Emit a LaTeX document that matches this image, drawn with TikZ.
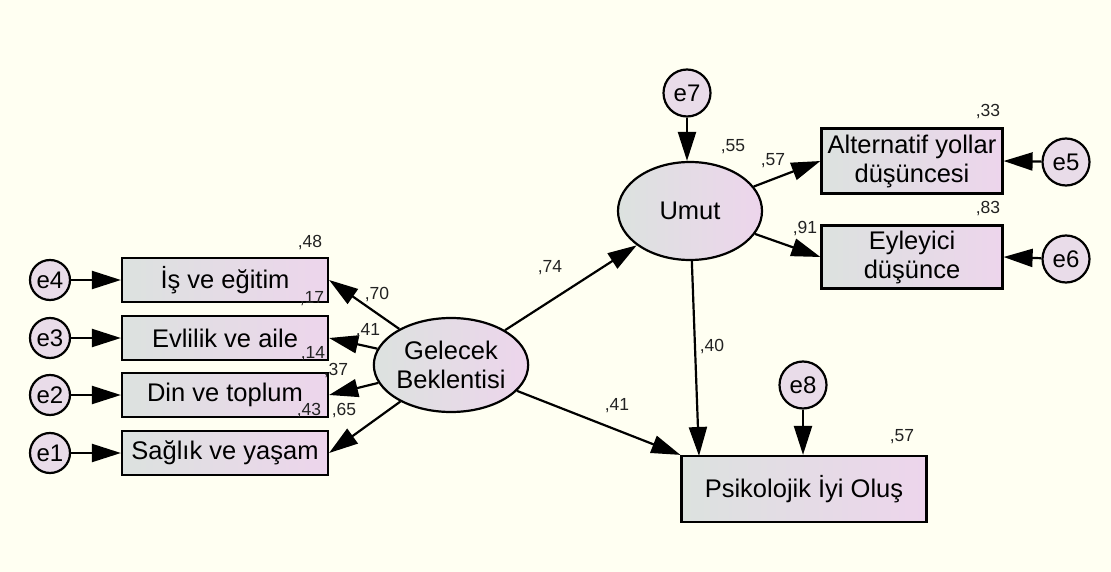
\documentclass[tikz,border=0pt]{standalone}
\usepackage{fontspec}
\setmainfont{Liberation Sans}
\usetikzlibrary{arrows.meta,shapes.geometric}
\definecolor{bg}{HTML}{FFFFF2}
\definecolor{lc}{HTML}{DCE2DF}
\definecolor{rc}{HTML}{EDD5EC}
\definecolor{cf}{HTML}{E9DCE9}
\definecolor{lab}{HTML}{222222}
\begin{document}
\begin{tikzpicture}[x=1pt,y=-1pt,
  box/.style={draw, line width=2.2pt, left color=lc, right color=rc, inner sep=0pt,
    font=\fontsize{25.5}{29}\selectfont, align=center},
  lat/.style={ellipse, draw, line width=2.2pt, left color=lc, right color=rc, inner sep=0pt,
    font=\fontsize{25.5}{29}\selectfont, align=center},
  err/.style={circle, draw, line width=2.2pt, fill=cf, inner sep=0pt, font=\fontsize{24}{26}\selectfont},
  arr/.style={line width=2.2pt, -{Triangle[length=29pt,width=18pt]}},
  lbl/.style={font=\fontsize{17.5}{19}\selectfont, text=lab, inner sep=0pt}
]
\fill[bg] (0,0) rectangle (1111,572);
% observed boxes
\node[box, minimum width=206pt, minimum height=44pt] (b4) at (225,280) {İş ve eğitim};
\node[box, minimum width=206pt, minimum height=44pt] (b3) at (225,338) {Evlilik ve aile};
\node[box, minimum width=206pt, minimum height=44pt] (b2) at (225,395) {Din ve toplum};
\node[box, minimum width=206pt, minimum height=44pt] (b1) at (225,453) {Sağlık ve yaşam};
\node[box, minimum width=181pt, minimum height=65pt] (A) at (912,161) {Alternatif yollar\\düşüncesi};
\node[box, minimum width=181pt, minimum height=63pt] (E) at (912,257) {Eyleyici\\düşünce};
\node[box, minimum width=245pt, minimum height=66pt] (P) at (804,489) {Psikolojik İyi Oluş};
% latent
\node[lat, minimum width=152pt, minimum height=94pt] (G) at (451,365) {Gelecek\\Beklentisi};
\node[lat, minimum width=144pt, minimum height=98pt] (U) at (690,211) {Umut};
% errors
\node[err, minimum size=40pt] (e4) at (50,280) {e4};
\node[err, minimum size=40pt] (e3) at (50,338) {e3};
\node[err, minimum size=40pt] (e2) at (50,395) {e2};
\node[err, minimum size=40pt] (e1) at (50,453) {e1};
\node[err, minimum size=47pt] (e7) at (687,93) {e7};
\node[err, minimum size=47pt] (e5) at (1066,162) {e5};
\node[err, minimum size=47pt] (e6) at (1066,259) {e6};
\node[err, minimum size=47pt] (e8) at (803,385) {e8};
\coordinate (Ptop) at (699,456);
% arrows
\draw[arr] (e4) -- (b4);
\draw[arr] (e3) -- (b3);
\draw[arr] (e2) -- (b2);
\draw[arr] (e1) -- (b1);
\draw[arr] (G) -- (b4.east);
\draw[arr] (G) -- (b3.east);
\draw[arr] (G) -- (b2.east);
\draw[arr] (G) -- (b1.east);
\draw[arr] (G) -- (U);
\draw[arr] (G) -- (P.north west);
\draw[arr] (U) -- (Ptop);
\draw[arr] (U) -- (A.west);
\draw[arr] (U) -- (E.west);
\draw[arr] (e5) -- (A.east);
\draw[arr] (e6) -- (E.east);
\draw[arr] (e7.south) -- (e7.south |- U.north);
\draw[arr] (e8.south) -- (e8.south |- P.north);
% labels
\node[lbl] (l48) at (310,243) {,48};
\node[lbl] (l17) at (312,299) {,17};
\node[lbl] (l14) at (313,354) {,14};
\node[lbl] (l43) at (309,411) {,43};
\node[lbl] (l70) at (377,295) {,70};
\node[lbl] (l41a) at (368,331) {,41};
\node[lbl] (l37) at (336,371) {,37};
\node[lbl] (l65) at (344,411) {,65};
\node[lbl] (l74) at (550,268) {,74};
\node[lbl] (l40) at (712,347) {,40};
\node[lbl] (l41b) at (617,406) {,41};
\node[lbl] (l55) at (733,147) {,55};
\node[lbl] (l57a) at (773,161) {,57};
\node[lbl] (l91) at (805,229) {,91};
\node[lbl] (l33) at (988,112) {,33};
\node[lbl] (l83) at (988,209) {,83};
\node[lbl] (l57b) at (902,437) {,57};
\end{tikzpicture}
\end{document}
